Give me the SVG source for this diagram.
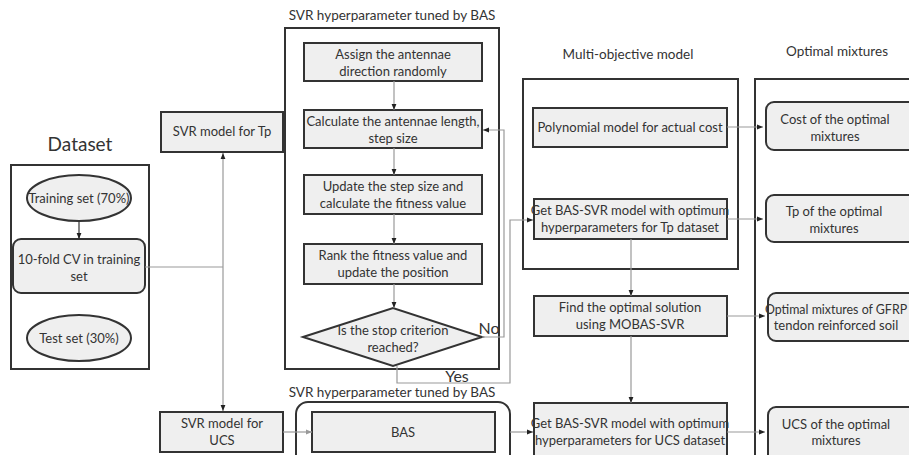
<svg xmlns="http://www.w3.org/2000/svg" width="909" height="455" viewBox="0 0 909 455">
<style>
text{font-family:Lato,"Liberation Sans",sans-serif;font-size:13px;fill:#333;text-anchor:middle}
.t{font-size:13.5px}
.big{font-size:19px}
.yn{font-size:16px}
.sm{font-size:12.4px}
.box{fill:#efefef;stroke:#333;stroke-width:2}
.cont{fill:none;stroke:#333;stroke-width:2}
.c{fill:none;stroke:#999;stroke-width:1.2}
.cd{fill:none;stroke:#333;stroke-width:1.2}
</style>
<defs>
<marker id="ah" viewBox="0 0 10 10" refX="10" refY="5" markerWidth="6" markerHeight="6" orient="auto" markerUnits="userSpaceOnUse">
<path d="M0,1 L10,5 L0,9 z" fill="#222"/>
</marker>
<marker id="ahg" viewBox="0 0 10 10" refX="10" refY="5" markerWidth="6" markerHeight="6" orient="auto" markerUnits="userSpaceOnUse">
<path d="M0,1 L10,5 L0,9 z" fill="#999"/>
</marker>
</defs>

<g id="containers">
<text class="big" x="80" y="151">Dataset</text>
<rect class="cont" x="11" y="165" width="138" height="204"/>
<text class="t" x="392" y="20">SVR hyperparameter tuned by BAS</text>
<rect class="cont" x="285" y="28" width="214" height="341"/>
<text class="t" x="628" y="59">Multi-objective model</text>
<rect class="cont" x="523" y="79" width="215" height="190"/>
<text class="t" x="837" y="56">Optimal mixtures</text>
<rect class="cont" x="755" y="79" width="170" height="390"/>
<text class="t" x="392" y="397">SVR hyperparameter tuned by BAS</text>
<rect class="cont" x="296" y="402" width="214" height="70" rx="12"/>
</g>

<g id="training">
<ellipse class="box" cx="79" cy="198" rx="52" ry="23"/>
<text x="79" y="203">Training set (70%)</text>
</g>
<g id="cv">
<rect class="box" x="13" y="239" width="132" height="54" rx="8"/>
<text x="79" y="264">10-fold CV in training</text>
<text x="79" y="281">set</text>
</g>
<g id="test">
<ellipse class="box" cx="79" cy="338" rx="52" ry="23"/>
<text x="79" y="343">Test set (30%)</text>
</g>

<g id="svr-tp">
<rect class="box" x="161" y="112" width="122" height="40"/>
<text x="222" y="136">SVR model for Tp</text>
</g>
<g id="svr-ucs">
<rect class="box" x="160" y="412" width="123" height="40"/>
<text x="222" y="428">SVR model for</text>
<text x="222" y="445">UCS</text>
</g>

<g id="assign">
<rect class="box" x="304" y="43" width="178" height="38"/>
<text x="393" y="59">Assign the antennae</text>
<text x="393" y="76">direction randomly</text>
</g>
<g id="calc">
<rect class="box" x="304" y="110" width="178" height="38"/>
<text x="393" y="126">Calculate the antennae length,</text>
<text x="393" y="143">step size</text>
</g>
<g id="update">
<rect class="box" x="304" y="175" width="178" height="39"/>
<text x="393" y="191">Update the step size and</text>
<text x="393" y="208">calculate the fitness value</text>
</g>
<g id="rank">
<rect class="box" x="304" y="244" width="178" height="40"/>
<text x="393" y="260">Rank the fitness value and</text>
<text x="393" y="277">update the position</text>
</g>
<g id="stop">
<polygon class="box" points="303,337 393,308 482,337 393,366"/>
<text x="393" y="335">Is the stop criterion</text>
<text x="393" y="352">reached?</text>
</g>

<g id="bas">
<rect class="box" x="312" y="412" width="183" height="40"/>
<text x="403" y="437">BAS</text>
</g>

<g id="poly">
<rect class="box" x="533" y="108" width="194" height="39"/>
<text x="630" y="132">Polynomial model for actual cost</text>
</g>
<g id="bassvr-tp">
<rect class="box" x="534" y="199" width="193" height="40"/>
<text x="630" y="215">Get BAS-SVR model with optimum</text>
<text x="630" y="232">hyperparameters for Tp dataset</text>
</g>
<g id="find">
<rect class="box" x="534" y="296" width="193" height="40"/>
<text x="630" y="312">Find the optimal solution</text>
<text x="630" y="329">using MOBAS-SVR</text>
</g>
<g id="bassvr-ucs">
<rect class="box" x="534" y="403" width="193" height="60"/>
<text x="630" y="428">Get BAS-SVR model with optimum</text>
<text x="630" y="445">hyperparameters for UCS dataset</text>
</g>

<g id="cost">
<rect class="box" x="766" y="102" width="160" height="48" rx="8"/>
<text x="835" y="124">Cost of the optimal</text>
<text x="835" y="141">mixtures</text>
</g>
<g id="tp-mix">
<rect class="box" x="766" y="195" width="160" height="47" rx="8"/>
<text x="834" y="216">Tp of the optimal</text>
<text x="834" y="233">mixtures</text>
</g>
<g id="gfrp">
<rect class="box" x="768" y="293" width="160" height="48" rx="8"/>
<text class="sm" x="836" y="314">Optimal mixtures of GFRP</text>
<text x="836" y="330">tendon reinforced soil</text>
</g>
<g id="ucs-mix">
<rect class="box" x="768" y="407" width="160" height="60" rx="8"/>
<text x="836" y="429">UCS of the optimal</text>
<text x="836" y="445">mixtures</text>
</g>

<g id="connectors">
<line class="cd" x1="79" y1="221" x2="79" y2="239" marker-end="url(#ah)"/>
<line class="c" x1="145" y1="267" x2="223" y2="267"/>
<line class="c" x1="223" y1="267" x2="223" y2="153" marker-end="url(#ah)"/>
<line class="c" x1="223" y1="267" x2="223" y2="411" marker-end="url(#ah)"/>
<line class="c" x1="394" y1="81" x2="394" y2="110" marker-end="url(#ah)"/>
<line class="c" x1="394" y1="148" x2="394" y2="175" marker-end="url(#ah)"/>
<line class="c" x1="394" y1="214" x2="394" y2="244" marker-end="url(#ah)"/>
<line class="c" x1="394" y1="284" x2="394" y2="308" marker-end="url(#ah)"/>
<polyline class="c" points="482,337 504,337 504,130 483,130" marker-end="url(#ah)"/>
<text class="yn" x="489" y="334">No</text>
<polyline class="c" points="397,366 397,383 510,383 510,220 533,220" marker-end="url(#ah)"/>
<text class="yn" x="457" y="382">Yes</text>
<line class="c" x1="283" y1="432" x2="312" y2="432" marker-end="url(#ahg)"/>
<line class="c" x1="510" y1="432" x2="533" y2="432" marker-end="url(#ah)"/>
<line class="c" x1="631" y1="239" x2="631" y2="296" marker-end="url(#ah)"/>
<line class="c" x1="631" y1="336" x2="631" y2="403" marker-end="url(#ah)"/>
<line class="c" x1="727" y1="127" x2="763" y2="127" marker-end="url(#ah)"/>
<line class="c" x1="727" y1="219" x2="763" y2="219" marker-end="url(#ah)"/>
<line class="c" x1="727" y1="316" x2="765" y2="316" marker-end="url(#ah)"/>
<line class="c" x1="727" y1="432" x2="765" y2="432" marker-end="url(#ah)"/>
</g>
</svg>
